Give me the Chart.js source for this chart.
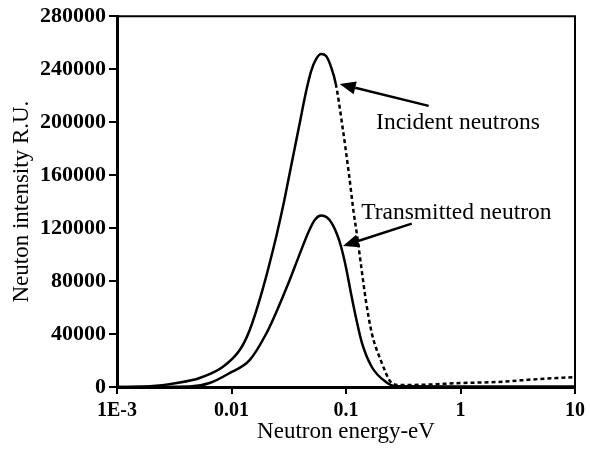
<!DOCTYPE html>
<html lang="en">
<head>
<meta charset="UTF-8">
<title>Neutron intensity</title>
<style>
  body { margin: 0; background: #fff; }
  #wrap { width: 590px; height: 449px; }
</style>
<script src="https://cdn.jsdelivr.net/npm/chart.js"></script>
</head>
<body>
<div id="wrap"><canvas id="grafico"></canvas></div>
<script>
// energy (eV) and intensity (R.U.)
const incidentE = [0.001, 0.00194, 0.00333, 0.00527, 0.00837, 0.0118, 0.0144, 0.0186, 0.0246, 0.0289,
                   0.0319, 0.039, 0.0449, 0.0496, 0.0548, 0.0607, 0.067, 0.0741, 0.0815, 0.0924,
                   0.106, 0.117, 0.125, 0.135, 0.149, 0.168, 0.201, 0.251, 0.29, 0.5, 1, 2.1, 4.8, 10];
const incidentI = [0, 500, 3000, 6800, 15100, 27900, 42900, 73000, 113700, 140800,
                   159600, 197200, 223500, 238600, 247600, 251400, 249900, 241600, 228800, 198700,
                   161100, 131000, 114400, 92600, 65500, 40600, 20300, 3000, 1500, 1800, 3000, 3800, 6000, 7500];

const transE = [0.001, 0.0043, 0.00644, 0.00961, 0.0144, 0.0202, 0.0246, 0.0319, 0.039, 0.0477,
                0.0537, 0.0607, 0.0684, 0.0755, 0.0836, 0.0905, 0.1, 0.1105, 0.122, 0.138,
                0.168, 0.223, 0.272, 1, 10];
const transI = [0, 300, 3000, 10500, 20300, 40600, 56500, 79800, 99400, 118200,
                126500, 129500, 128000, 123400, 115200, 106100, 90300, 70800, 52700, 33100,
                15100, 3800, 500, 300, 300];

// incident curve is drawn dashed from this energy on
const dashFrom = 0.08;

const xTickValues = [0.001, 0.01, 0.1, 1, 10];
const xTickLabels = ['1E-3', '0.01', '0.1', '1', '10'];

// arrows and their labels (data units)
const labelTexts = ['Incident neutrons', 'Transmitted neutron'];
const labelE = [0.95, 0.92];
const labelI = [199500, 131700];
const arrowTailE = [0.527, 0.375];
const arrowTailI = [212300, 123400];
const arrowTipE = [0.088, 0.094];
const arrowTipI = [228800, 106500];

const serif = "'Liberation Serif', 'Times New Roman', serif";

function pontos(xs, ys) {
    return xs.map((x, i) => ({ x: x, y: ys[i] }));
}

// box around the plot + arrows with text
const extras = {
    id: 'extras',
    afterDraw(chart) {
        const ctx = chart.ctx;
        const a = chart.chartArea;
        const sx = chart.scales.x, sy = chart.scales.y;
        ctx.save();
        ctx.strokeStyle = '#000';
        ctx.lineWidth = 2;
        ctx.beginPath();
        ctx.moveTo(a.left, a.top);
        ctx.lineTo(a.right, a.top);
        ctx.lineTo(a.right, a.bottom);
        ctx.stroke();

        ctx.fillStyle = '#000';
        for (let i = 0; i < labelTexts.length; i++) {
            const x0 = sx.getPixelForValue(arrowTailE[i]);
            const y0 = sy.getPixelForValue(arrowTailI[i]);
            const x1 = sx.getPixelForValue(arrowTipE[i]);
            const y1 = sy.getPixelForValue(arrowTipI[i]);
            const ang = Math.atan2(y1 - y0, x1 - x0);
            const len = 16, half = 6.5;
            const bx = x1 - len * Math.cos(ang), by = y1 - len * Math.sin(ang);
            ctx.lineWidth = 2.5;
            ctx.beginPath();
            ctx.moveTo(x0, y0);
            ctx.lineTo(bx, by);
            ctx.stroke();
            ctx.beginPath();
            ctx.moveTo(x1, y1);
            ctx.lineTo(bx + half * Math.sin(ang), by - half * Math.cos(ang));
            ctx.lineTo(bx - half * Math.sin(ang), by + half * Math.cos(ang));
            ctx.closePath();
            ctx.fill();

            ctx.font = '23.5px ' + serif;
            ctx.textAlign = 'center';
            ctx.textBaseline = 'middle';
            ctx.fillText(labelTexts[i], sx.getPixelForValue(labelE[i]), sy.getPixelForValue(labelI[i]));
        }
        ctx.restore();
    }
};

const ctx = document.getElementById('grafico').getContext('2d');
const grafico = new Chart(ctx, {
    type: 'line',
    data: {
        datasets: [
            {
                label: 'Incident neutrons',
                data: pontos(incidentE, incidentI),
                borderColor: '#000',
                borderWidth: 2.5,
                pointRadius: 0,
                cubicInterpolationMode: 'monotone',
                fill: false,
                segment: {
                    borderDash: c => c.p0.parsed.x >= dashFrom ? [4, 3] : undefined
                }
            },
            {
                label: 'Transmitted neutron',
                data: pontos(transE, transI),
                borderColor: '#000',
                borderWidth: 2.5,
                pointRadius: 0,
                cubicInterpolationMode: 'monotone',
                fill: false
            }
        ]
    },
    options: {
        responsive: true,
        maintainAspectRatio: false,
        animation: false,
        layout: { padding: { top: 15, right: 13, left: 0, bottom: 0 } },
        plugins: {
            legend: { display: false },
            tooltip: { enabled: false }
        },
        scales: {
            x: {
                type: 'logarithmic',
                min: 0.001,
                max: 10,
                afterBuildTicks: s => { s.ticks = xTickValues.map(v => ({ value: v, major: true })); },
                afterFit: s => { s.height = 62; },
                ticks: {
                    autoSkip: false,
                    maxRotation: 0,
                    color: '#000',
                    padding: 5,
                    font: { family: serif, size: 20, weight: 'bold' },
                    callback: (v, i) => xTickLabels[i]
                },
                grid: { drawOnChartArea: false, color: '#000', lineWidth: 2, tickLength: 7 },
                border: { display: true, color: '#000', width: 3 },
                title: {
                    display: true,
                    text: 'Neutron energy-eV',
                    color: '#000',
                    font: { family: serif, size: 23 },
                    padding: { top: 0, bottom: 3 }
                }
            },
            y: {
                min: 0,
                max: 280000,
                afterFit: s => { s.width = 117; },
                ticks: {
                    stepSize: 40000,
                    color: '#000',
                    padding: 3,
                    font: { family: serif, size: 22, weight: 'bold' },
                    callback: v => String(v)
                },
                grid: { drawOnChartArea: false, color: '#000', lineWidth: 2, tickLength: 8 },
                border: { display: true, color: '#000', width: 3 },
                title: {
                    display: true,
                    text: 'Neuton intensity R.U.',
                    color: '#000',
                    font: { family: serif, size: 23 },
                    padding: { top: 8, bottom: 0 }
                }
            }
        }
    },
    plugins: [extras]
});
</script>
</body>
</html>
